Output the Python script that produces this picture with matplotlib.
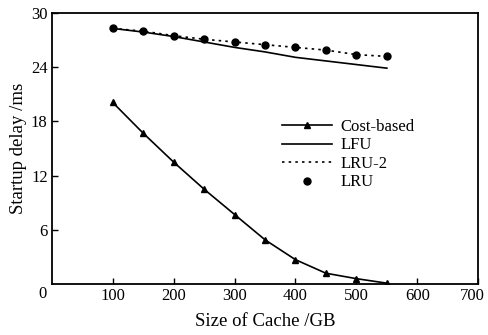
import matplotlib
matplotlib.use("Agg")
import matplotlib.pyplot as plt
from matplotlib.transforms import offset_copy, ScaledTranslation

plt.rcParams['font.family'] = ['Liberation Serif', 'DejaVu Serif']

cache_sizes = [100, 150, 200, 250, 300, 350, 400, 450, 500, 550]
cost_based = [20.1, 16.7, 13.5, 10.5, 7.7, 4.9, 2.7, 1.2, 0.6, 0.1]
lfu = [28.3, 27.9, 27.4, 26.8, 26.2, 25.7, 25.1, 24.7, 24.3, 23.9]
lru2 = [28.3, 28.0, 27.5, 27.1, 26.8, 26.5, 26.2, 25.9, 25.4, 25.2]
lru = [28.3, 28.0, 27.5, 27.1, 26.8, 26.5, 26.2, 25.9, 25.4, 25.2]

x_ticks = [100, 200, 300, 400, 500, 600, 700]
y_ticks = [6, 12, 18, 24, 30]

fig = plt.figure(figsize=(4.89, 3.35), dpi=100)
ax = fig.add_axes([0.106, 0.152, 0.872, 0.809])

ax.plot(cache_sizes, cost_based, color='black', lw=1.2, marker='^', ms=5, label='Cost-based')
ax.plot(cache_sizes, lfu, color='black', lw=1.2, label='LFU')
ax.plot(cache_sizes, lru2, color='black', lw=1.2, ls=(0, (1.5, 2.5)), label='LRU-2')
ax.plot(cache_sizes, lru, color='black', lw=0, marker='o', ms=5, label='LRU')

ax.set_xlim(0, 700)
ax.set_ylim(0, 30)
ax.set_xticks(x_ticks)
ax.set_yticks(y_ticks)
ax.tick_params(direction='in', length=4, width=1, labelsize=12, colors='black', pad=3)
for s in ax.spines.values():
    s.set_linewidth(1.3)

# keep the last x tick label inside the figure
last = ax.get_xticklabels()[-1]
last.set_transform(last.get_transform() + ScaledTranslation(-4 / 72, 0, fig.dpi_scale_trans))

ax.text(0, 0, '0', transform=offset_copy(ax.transData, fig=fig, x=-7, y=-7, units='points'),
        ha='center', va='center', fontsize=12)

ax.set_xlabel('Size of Cache /GB', fontsize=13.5, labelpad=6)
ax.set_ylabel('Startup delay /ms', fontsize=13.5, labelpad=3)

ax.legend(loc='upper left', bbox_to_anchor=(0.52, 0.64), frameon=False, fontsize=12,
          handlelength=3.0, handletextpad=0.5, labelspacing=0.15, borderpad=0)

fig.savefig('out.png', dpi=100)
